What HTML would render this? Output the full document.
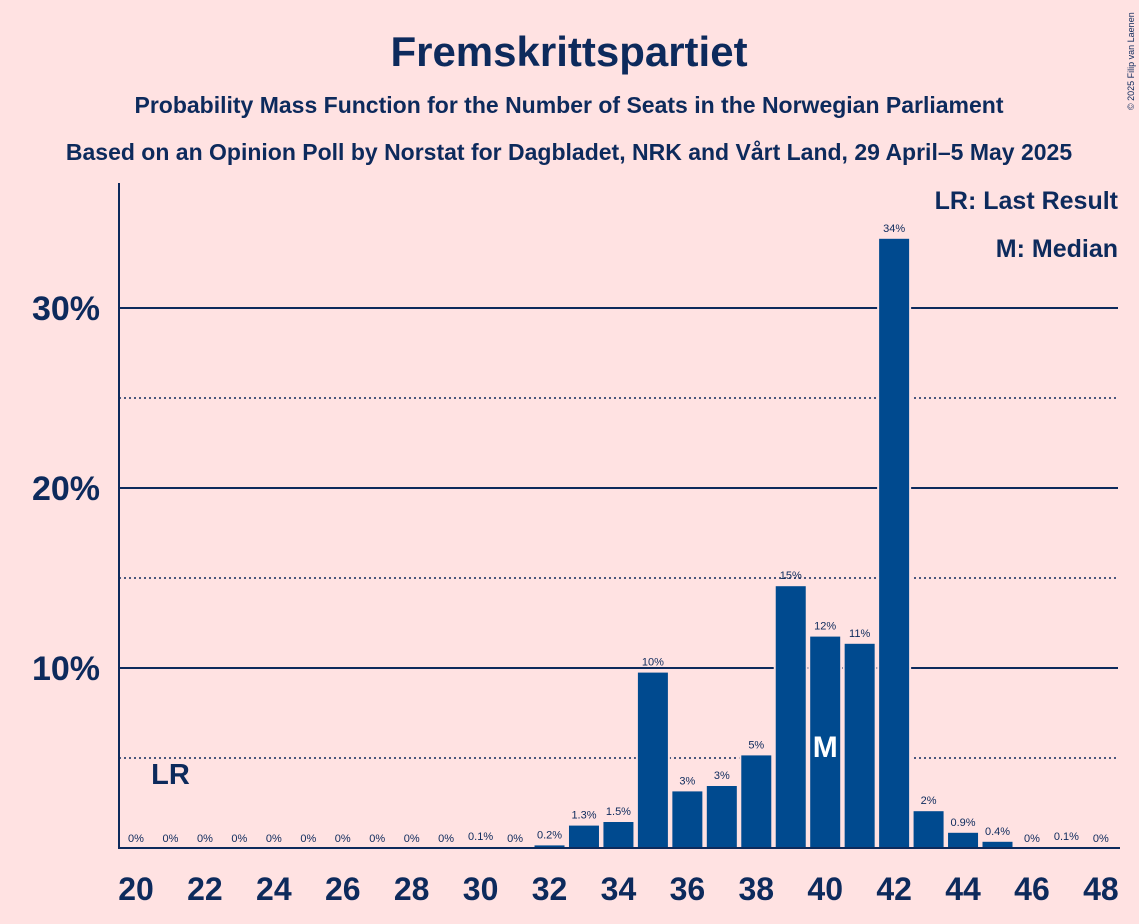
<!DOCTYPE html>
<html><head><meta charset="utf-8"><style>
body{margin:0;background:#ffe2e2;}
svg{display:block;font-family:"Liberation Sans",sans-serif;}
</style></head><body>
<svg id="c" width="1139" height="924" viewBox="0 0 1139 924">
<rect width="1139" height="924" fill="#ffe2e2"/>
<text x="569" y="66" text-anchor="middle" font-size="42" font-weight="bold" fill="#0d2a5c">Fremskrittspartiet</text>
<text x="569" y="113" text-anchor="middle" font-size="23" font-weight="bold" fill="#0d2a5c">Probability Mass Function for the Number of Seats in the Norwegian Parliament</text>
<text x="569" y="160" text-anchor="middle" font-size="23" font-weight="bold" fill="#0d2a5c">Based on an Opinion Poll by Norstat for Dagbladet, NRK and Vårt Land, 29 April–5 May 2025</text>
<text x="1134" y="110" font-size="9" fill="#0d2a5c" transform="rotate(-90 1134 110)">© 2025 Filip van Laenen</text>
<text x="1118" y="209" text-anchor="end" font-size="25" font-weight="bold" fill="#0d2a5c">LR: Last Result</text>
<text x="1118" y="257" text-anchor="end" font-size="25" font-weight="bold" fill="#0d2a5c">M: Median</text>
<g id="grid"></g><g id="bars"></g><g id="labels"></g>
<line x1="119" y1="183" x2="119" y2="849" stroke="#0d2a5c" stroke-width="2"/>
<line x1="118" y1="848" x2="1120" y2="848" stroke="#0d2a5c" stroke-width="2"/>
</svg>
<script>
const seats=[20,21,22,23,24,25,26,27,28,29,30,31,32,33,34,35,36,37,38,39,40,41,42,43,44,45,46,47,48];
const probs=[0,0,0,0,0,0,0,0,0,0,0.1,0,0.2,1.3,1.5,9.8,3.2,3.5,5.2,14.6,11.8,11.4,33.9,2.1,0.9,0.4,0,0.1,0];
const valueLabels=["0%","0%","0%","0%","0%","0%","0%","0%","0%","0%","0.1%","0%","0.2%","1.3%","1.5%","10%","3%","3%","5%","15%","12%","11%","34%","2%","0.9%","0.4%","0%","0.1%","0%"];
const yTicks=[10,20,30];
const yMinor=[5,15,25];
const lastResult=21, median=40;
const NS="http://www.w3.org/2000/svg";
const X=s=>136+(s-20)*34.46;
const Y=v=>848-v*18;
function mk(t,a,p){const e=document.createElementNS(NS,t);for(const k in a)e.setAttribute(k,a[k]);p.appendChild(e);return e;}
const g=document.getElementById('grid'),b=document.getElementById('bars'),l=document.getElementById('labels');
yMinor.forEach(v=>{const e=mk('line',{x1:119,x2:1118,y1:Y(v),y2:Y(v),stroke:'#0d2a5c','stroke-width':1.5,'stroke-dasharray':'2,3'},g);

});
yTicks.forEach(v=>{const e=mk('line',{x1:119,x2:1118,y1:Y(v),y2:Y(v),stroke:'#0d2a5c','stroke-width':2},g);


const t=mk('text',{x:100,y:Y(v)+12,'text-anchor':'end','font-size':34,'font-weight':'bold',fill:'#0d2a5c'},g);t.textContent=v+'%';

});
seats.forEach((s,i)=>{const v=probs[i];const cx=X(s);
if(v>0){const r=mk('rect',{x:cx-16,y:Y(v),width:32,height:848-Y(v),fill:'#004a8f',stroke:'#ffe2e2','stroke-width':2},b);

}
const t=mk('text',{x:cx,y:Y(v)-6,'text-anchor':'middle','font-size':11,fill:'#0d2a5c'},l);t.textContent=valueLabels[i];


if(s%2===0){const x=mk('text',{x:cx,y:900,'text-anchor':'middle','font-size':32,'font-weight':'bold',fill:'#0d2a5c'},l);x.textContent=s;

}
});
const lr=mk('text',{x:X(lastResult),y:784,'text-anchor':'middle','font-size':29,'font-weight':'bold',fill:'#0d2a5c'},l);lr.textContent='LR';


const m=mk('text',{x:X(median),y:757,'text-anchor':'middle','font-size':30,'font-weight':'bold',fill:'#ffffff'},l);m.textContent='M';


</script>
</body></html>
